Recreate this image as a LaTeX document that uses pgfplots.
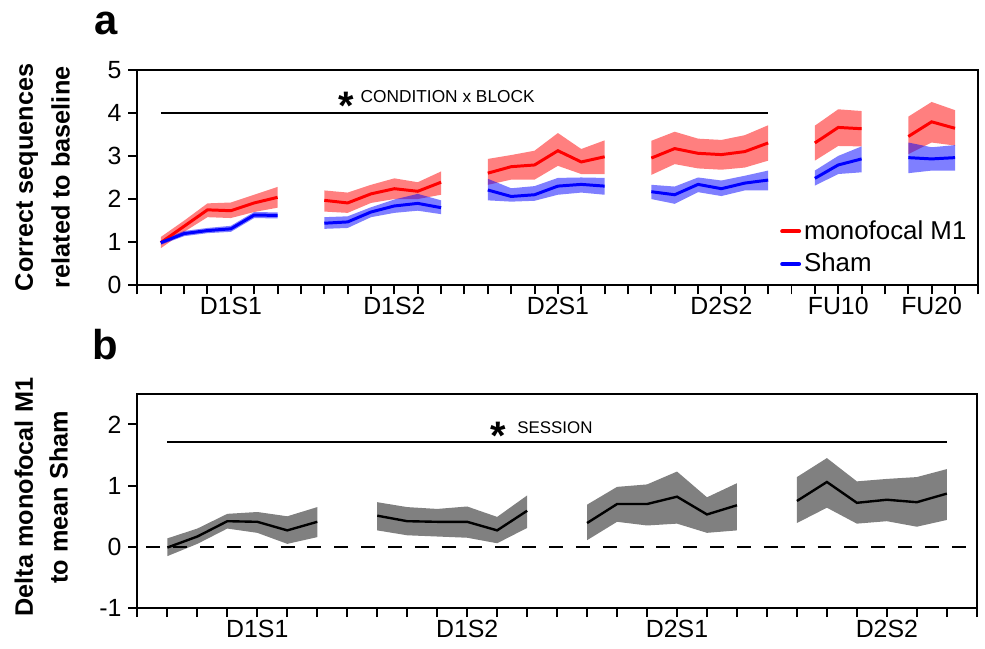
\documentclass[border=0pt]{standalone}
\usepackage{fontspec}
\setmainfont{Liberation Sans}
\usepackage{pgfplots}
\pgfplotsset{compat=1.18}
\definecolor{bandgray}{HTML}{808080}
\begin{document}
\begin{tikzpicture}[x=1pt,y=1pt]
\path (0,0) rectangle (492.5,-326);
\pgfplotsset{
  myaxis/.style={
    scale only axis, anchor=south west,
    axis line style={line width=1pt},
    every tick/.style={black, line width=1pt},
    tick align=outside, tick pos=left, major tick length=4.5pt,
    tick label style={font=\fontsize{12.5}{15}\selectfont},
    xticklabel style={yshift=2.2pt},
    /pgf/number format/assume math mode=true,
    unbounded coords=jump,
  }
}
% ---------------- panel a ----------------
\begin{axis}[myaxis,
  at={(69.1pt,-143.5pt)},
  width=422.9pt, height=108.5pt,
  xmin=0, xmax=36, ymin=0, ymax=5,
  xtick={0,...,36},
  xticklabels={,,,,D1S1,,,,,,,D1S2,,,,,,,D2S1,,,,,,,D2S2,,,,,FU10,,,,FU20,,},
  ytick={0,...,5},
  legend style={at={(axis cs:27.5,1.58)}, anchor=north west, draw=none, fill=none,
    font=\fontsize{13}{15}\selectfont, inner sep=0pt, row sep=2.5pt,
    nodes={inner sep=1.5pt}},
  legend cell align=left,
  legend image code/.code={\draw[#1, line width=2pt, line cap=round] (0pt,0pt) -- (8.5pt,0pt);},
]
% red bands
\addplot[draw=none, fill=red, fill opacity=0.5, forget plot] coordinates {(1,1.12)(2,1.50)(3,1.90)(4,1.92)(5,2.10)(6,2.28)(6,1.80)(5,1.70)(4,1.56)(3,1.58)(2,1.24)(1,0.86)} -- cycle;
\addplot[draw=none, fill=red, fill opacity=0.5, forget plot] coordinates {(8,2.20)(9,2.15)(10,2.33)(11,2.48)(12,2.39)(13,2.64)(13,2.10)(12,2.00)(11,2.00)(10,1.91)(9,1.68)(8,1.71)} -- cycle;
\addplot[draw=none, fill=red, fill opacity=0.5, forget plot] coordinates {(15,2.93)(16,3.02)(17,3.12)(18,3.53)(19,3.16)(20,3.36)(20,2.58)(19,2.58)(18,2.77)(17,2.45)(16,2.45)(15,2.33)} -- cycle;
\addplot[draw=none, fill=red, fill opacity=0.5, forget plot] coordinates {(22,3.35)(23,3.56)(24,3.40)(25,3.37)(26,3.48)(27,3.71)(27,2.89)(26,2.73)(25,2.68)(24,2.71)(23,2.81)(22,2.56)} -- cycle;
\addplot[draw=none, fill=red, fill opacity=0.5, forget plot] coordinates {(29,3.70)(30,4.08)(31,4.04)(31,3.22)(30,3.23)(29,2.89)} -- cycle;
\addplot[draw=none, fill=red, fill opacity=0.5, forget plot] coordinates {(33,3.91)(34,4.25)(35,4.06)(35,3.24)(34,3.31)(33,3.04)} -- cycle;
% blue bands
\addplot[draw=none, fill=blue, fill opacity=0.5, forget plot] coordinates {(1,1.04)(2,1.26)(3,1.33)(4,1.38)(5,1.70)(6,1.69)(6,1.55)(5,1.56)(4,1.24)(3,1.21)(2,1.14)(1,0.94)} -- cycle;
\addplot[draw=none, fill=blue, fill opacity=0.5, forget plot] coordinates {(8,1.58)(9,1.60)(10,1.81)(11,1.99)(12,2.12)(13,1.97)(13,1.65)(12,1.73)(11,1.68)(10,1.58)(9,1.33)(8,1.31)} -- cycle;
\addplot[draw=none, fill=blue, fill opacity=0.5, forget plot] coordinates {(15,2.47)(16,2.25)(17,2.30)(18,2.49)(19,2.50)(20,2.49)(20,2.10)(19,2.15)(18,2.10)(17,1.96)(16,1.94)(15,1.97)} -- cycle;
\addplot[draw=none, fill=blue, fill opacity=0.5, forget plot] coordinates {(22,2.33)(23,2.29)(24,2.50)(25,2.43)(26,2.54)(27,2.66)(27,2.20)(26,2.20)(25,2.07)(24,2.16)(23,1.89)(22,2.00)} -- cycle;
\addplot[draw=none, fill=blue, fill opacity=0.5, forget plot] coordinates {(29,2.66)(30,3.00)(31,3.22)(31,2.62)(30,2.58)(29,2.31)} -- cycle;
\addplot[draw=none, fill=blue, fill opacity=0.5, forget plot] coordinates {(33,3.31)(34,3.20)(35,3.25)(35,2.66)(34,2.66)(33,2.60)} -- cycle;
% means
\addplot[red, line width=1.5pt] coordinates {(1,0.99)(2,1.37)(3,1.75)(4,1.73)(5,1.91)(6,2.04)(7,nan)
 (8,1.97)(9,1.91)(10,2.12)(11,2.24)(12,2.18)(13,2.39)(14,nan)
 (15,2.60)(16,2.75)(17,2.79)(18,3.12)(19,2.86)(20,2.98)(21,nan)
 (22,2.95)(23,3.17)(24,3.06)(25,3.03)(26,3.10)(27,3.30)(28,nan)
 (29,3.30)(30,3.66)(31,3.63)(32,nan)
 (33,3.45)(34,3.79)(35,3.64)};
\addplot[blue, line width=1.5pt] coordinates {(1,0.99)(2,1.20)(3,1.27)(4,1.31)(5,1.63)(6,1.62)(7,nan)
 (8,1.44)(9,1.47)(10,1.70)(11,1.84)(12,1.90)(13,1.80)(14,nan)
 (15,2.21)(16,2.06)(17,2.10)(18,2.30)(19,2.34)(20,2.30)(21,nan)
 (22,2.17)(23,2.10)(24,2.34)(25,2.24)(26,2.37)(27,2.44)(28,nan)
 (29,2.48)(30,2.79)(31,2.93)(32,nan)
 (33,2.96)(34,2.93)(35,2.96)};
\legend{monofocal M1, Sham}
% significance
\addplot[black, line width=1pt, forget plot] coordinates {(1,4)(27,4)};
\node[anchor=base, font=\bfseries\fontsize{20}{20}\selectfont, inner sep=0pt] at (axis cs:8.92,3.85) {*};
\node[anchor=base west, font=\fontsize{8.7}{10}\selectfont, inner sep=0pt] at (axis cs:9.54,4.235) {CONDITION x BLOCK};
\end{axis}
% ---------------- panel b ----------------
\begin{axis}[myaxis,
  at={(69.1pt,-305.85pt)},
  width=422.1pt, height=107.85pt,
  xmin=0, xmax=28, ymin=-1, ymax=2.5,
  xtick={0,...,28},
  xticklabels={,,,,D1S1,,,,,,,D1S2,,,,,,,D2S1,,,,,,,D2S2,,,},
  ytick={-1,0,1,2},
  yticklabels={-1,0,1,2},
]
\addplot[draw=none, fill=bandgray, forget plot] coordinates {(1,0.14)(2,0.30)(3,0.54)(4,0.57)(5,0.50)(6,0.65)(6,0.16)(5,0.05)(4,0.23)(3,0.30)(2,0.05)(1,-0.15)} -- cycle;
\addplot[draw=none, fill=bandgray, forget plot] coordinates {(8,0.73)(9,0.65)(10,0.62)(11,0.66)(12,0.49)(13,0.84)(13,0.31)(12,0.06)(11,0.15)(10,0.17)(9,0.19)(8,0.27)} -- cycle;
\addplot[draw=none, fill=bandgray, forget plot] coordinates {(15,0.69)(16,0.98)(17,1.02)(18,1.23)(19,0.81)(20,1.04)(20,0.27)(19,0.23)(18,0.38)(17,0.35)(16,0.41)(15,0.11)} -- cycle;
\addplot[draw=none, fill=bandgray, forget plot] coordinates {(22,1.14)(23,1.45)(24,1.07)(25,1.11)(26,1.14)(27,1.27)(27,0.44)(26,0.33)(25,0.42)(24,0.38)(23,0.64)(22,0.39)} -- cycle;
\addplot[black, line width=1.35pt, dash pattern=on 7pt off 6.5pt, forget plot] coordinates {(0.3,0)(28,0)};
\addplot[black, line width=1.2pt] coordinates {(1,-0.01)(2,0.17)(3,0.42)(4,0.41)(5,0.27)(6,0.41)(7,nan)
 (8,0.51)(9,0.42)(10,0.41)(11,0.41)(12,0.27)(13,0.59)(14,nan)
 (15,0.39)(16,0.70)(17,0.70)(18,0.82)(19,0.53)(20,0.68)(21,nan)
 (22,0.75)(23,1.06)(24,0.72)(25,0.77)(26,0.73)(27,0.87)};
\addplot[black, line width=1pt] coordinates {(1,1.71)(27,1.71)};
\node[anchor=base, font=\bfseries\fontsize{20}{20}\selectfont, inner sep=0pt] at (axis cs:12.05,1.585) {*};
\node[anchor=base west, font=\fontsize{8.5}{10}\selectfont, inner sep=0pt] at (axis cs:12.66,1.85) {SESSION};
\end{axis}
% labels
\node[anchor=base, font=\bfseries\fontsize{21}{21}\selectfont, inner sep=0pt] at (53.5,-17.5) {a};
\node[anchor=base, font=\bfseries\fontsize{21}{21}\selectfont, inner sep=0pt] at (53,-181) {b};
\node[rotate=90, align=center, font=\bfseries\fontsize{12.7}{18.5}\selectfont, inner sep=0pt] at (21.4,-89.2) {Correct sequences\\related to baseline};
\node[rotate=90, align=center, font=\bfseries\fontsize{12.7}{17.5}\selectfont, inner sep=0pt] at (20.75,-250) {Delta monofocal M1\\to mean Sham};
\end{tikzpicture}
\end{document}
